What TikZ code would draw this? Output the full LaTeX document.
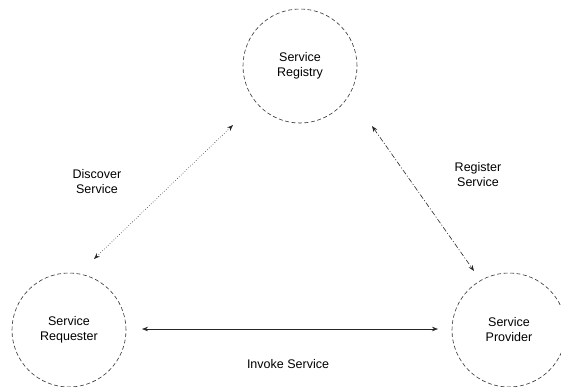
\documentclass[tikz,border=0pt]{standalone}
\usepackage{fontspec}
\setmainfont{Liberation Sans}
\usetikzlibrary{arrows.meta}
\begin{document}
\begin{tikzpicture}[x=1pt,y=-1pt,
  role/.style={circle,draw=black!80,dashed,dash pattern=on 4pt off 2.5pt,line width=0.6pt,
    minimum size=114pt,inner sep=0pt,align=center,font=\fontsize{12.5}{15}\selectfont},
  lbl/.style={align=center,font=\fontsize{12.5}{15}\selectfont},
  link/.style={line width=0.6pt,draw=black!85,{Stealth[length=6pt,width=4.5pt]}-{Stealth[length=6pt,width=4.5pt]}}]
  \useasboundingbox (0,0) rectangle (561,386);
  % the three roles
  \node[role] (reg) at (300,66) {Service\\Registry};
  \node[role] (req) at (69,330) {Service\\Requester};
  \node[role] (prov) at (509,330) {Service\\Provider};
  % arrow ends
  \coordinate (dA) at (94,259);
  \coordinate (dB) at (233,125);
  \coordinate (rA) at (372,126);
  \coordinate (rB) at (474,271);
  \coordinate (iA) at (142,329);
  \coordinate (iB) at (438,329);
  % connectors
  \draw[link,dotted] (dA) -- (dB);
  \draw[link,dash pattern=on 5pt off 2pt on 1pt off 2pt] (rA) -- (rB);
  \draw[link] (iA) -- (iB);
  % labels
  \node[lbl] (ld) at (97,182) {Discover\\Service};
  \node[lbl] (lr) at (478,175) {Register\\Service};
  \node[lbl] (li) at (288,364) {Invoke Service};
\end{tikzpicture}
\end{document}
